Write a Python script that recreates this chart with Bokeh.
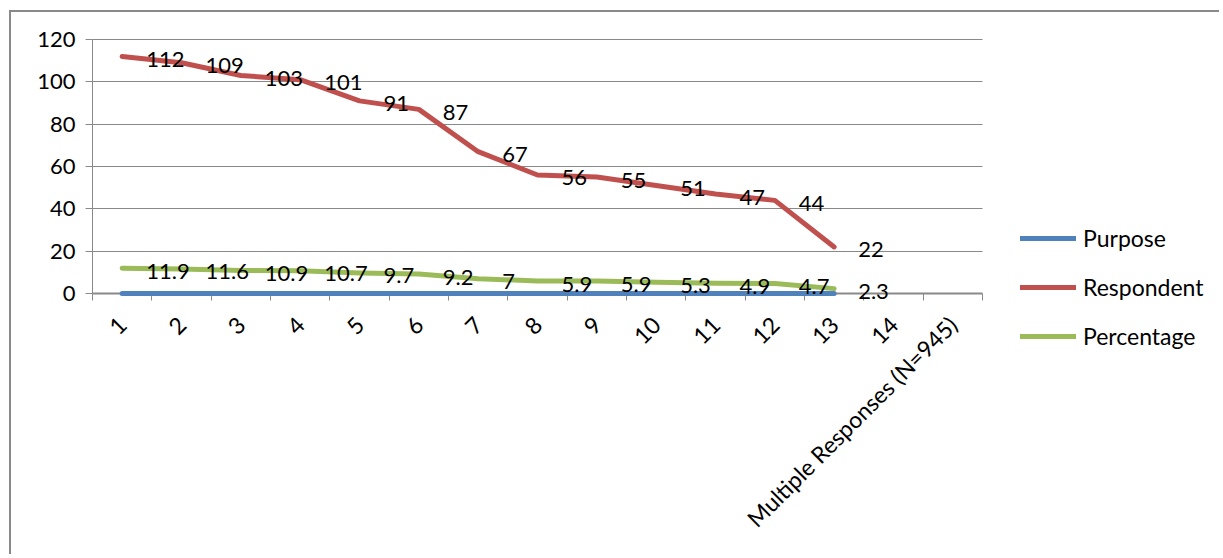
from bokeh.plotting import figure
from bokeh.models import (Range1d, FixedTicker, CustomJSTickFormatter, Legend, LegendItem,
                          ColumnDataSource)
from bokeh.core.properties import value
from bokeh.embed import file_html
from bokeh.resources import INLINE
import math

# ---- data ----
categories = ["1", "2", "3", "4", "5", "6", "7", "8", "9", "10", "11", "12", "13", "14",
              "Multiple Responses (N=945)"]
points = [1, 2, 3, 4, 5, 6, 7, 8, 9, 10, 11, 12, 13]
purpose = [0, 0, 0, 0, 0, 0, 0, 0, 0, 0, 0, 0, 0]
respondent = [112, 109, 103, 101, 91, 87, 67, 56, 55, 51, 47, 44, 22]
percentage = [11.9, 11.6, 10.9, 10.7, 9.7, 9.2, 7, 5.9, 5.9, 5.3, 4.9, 4.7, 2.3]
y_ticks = [0, 20, 40, 60, 80, 100, 120]

FONT = "Lato"
FS = "22px"
FS_X = "23px"
FS_LEG = "23px"
GREY = "#898989"

# ---- layout (pixels of the page) ----
W, H = 1210, 544            # canvas size
CX, CY = 11, 12             # canvas origin on the page (after css margin + border)
PL, PR, PT, PB = 92, 982, 39, 293   # plot area on the page
n = len(categories)
ymax = y_ticks[-1]
kx = (PR - PL) / n
ky = (PB - PT) / ymax
x0 = 0.5 - (PL - CX) / kx
x1 = 0.5 + (CX + W - PL) / kx
y1 = ymax + (PT - CY) / ky
y0 = -(CY + H - PB) / ky

p = figure(width=W, height=H, output_backend="svg", toolbar_location=None,
           x_range=Range1d(x0, x1), y_range=Range1d(y0, y1),
           min_border_left=0, min_border_right=0, min_border_top=0, min_border_bottom=0)
p.styles = {"margin-left": "9px", "margin-top": "10px",
            "border-left": "2px solid " + GREY, "border-top": "2px solid " + GREY}
p.outline_line_color = None
p.background_fill_color = "white"
p.border_fill_color = "white"

# axes
p.yaxis.fixed_location = 0.5
p.yaxis.bounds = (0, ymax)
p.yaxis.ticker = FixedTicker(ticks=y_ticks)
p.yaxis.axis_line_color = GREY
p.yaxis.axis_line_width = 1
p.yaxis.major_tick_line_color = GREY
p.yaxis.major_tick_out = 7
p.yaxis.major_tick_in = 0
p.yaxis.minor_tick_line_color = None
p.yaxis.major_label_text_font = FONT
p.yaxis.major_label_text_font_size = FS
p.yaxis.major_label_text_color = "black"
p.yaxis.major_label_standoff = 10
p.yaxis.level = "underlay"

centers = list(range(1, n + 1))
bounds = [c + 0.5 for c in range(0, n + 1)]
p.xaxis.fixed_location = 0
p.xaxis.bounds = (0.5, n + 0.5)
p.xaxis.ticker = FixedTicker(ticks=centers, minor_ticks=bounds)
p.xaxis.formatter = CustomJSTickFormatter(args=dict(labels=categories),
                                          code="return labels[Math.round(tick) - 1];")
p.xaxis.axis_line_color = GREY
p.xaxis.axis_line_width = 2
p.xaxis.major_tick_line_color = None
p.xaxis.major_tick_out = 0
p.xaxis.major_tick_in = 0
p.xaxis.minor_tick_line_color = GREY
p.xaxis.minor_tick_out = 7
p.xaxis.minor_tick_in = 0
p.xaxis.major_label_orientation = math.pi / 4
p.xaxis.major_label_text_font = FONT
p.xaxis.major_label_text_font_size = FS_X
p.xaxis.major_label_text_color = "black"
p.xaxis.major_label_standoff = 20
p.xaxis.level = "underlay"

p.xgrid.grid_line_color = None
grid = p.ygrid[0]
if "cross_bounds" in grid.properties():
    grid.ticker = FixedTicker(ticks=y_ticks[1:])
    grid.cross_bounds = (0.5, n + 0.5)
    grid.grid_line_color = GREY
    grid.grid_line_width = 1
else:
    grid.grid_line_color = None
    p.segment(x0=[0.5] * (len(y_ticks) - 1), x1=[n + 0.5] * (len(y_ticks) - 1),
              y0=y_ticks[1:], y1=y_ticks[1:], line_color=GREY, line_width=1)

src = ColumnDataSource(dict(x=points, purpose=purpose, respondent=respondent,
                            percentage=percentage,
                            rlab=[str(v) for v in respondent],
                            plab=[("%g" % v) for v in percentage]))

r1 = p.line("x", "purpose", source=src, line_color="#4F81BD", line_width=5,
            line_cap="round", line_join="round")
r2 = p.line("x", "respondent", source=src, line_color="#C0504D", line_width=5,
            line_cap="round", line_join="round")
r3 = p.line("x", "percentage", source=src, line_color="#9BBB59", line_width=5,
            line_cap="round", line_join="round")

for col, lab in (("respondent", "rlab"), ("percentage", "plab")):
    p.text("x", col, text=lab, source=src, x_offset=24, y_offset=3,
           text_align="left", text_baseline="middle",
           text_font=value(FONT), text_font_size=FS, text_color="black")

legend = Legend(items=[LegendItem(label="Purpose", renderers=[r1]),
                       LegendItem(label="Respondent", renderers=[r2]),
                       LegendItem(label="Percentage", renderers=[r3])],
                location=(1020 - CX, CY + H - 350), glyph_width=56, glyph_height=20,
                label_height=20, label_standoff=7, spacing=21, padding=0, margin=0,
                border_line_color=None, background_fill_alpha=0,
                label_text_font=FONT, label_text_font_size=FS_LEG, label_text_color="black")
p.add_layout(legend)

open("out.html", "w").write(file_html(p, INLINE))
